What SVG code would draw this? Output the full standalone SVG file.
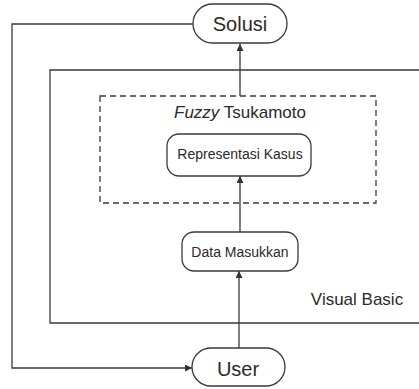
<svg xmlns="http://www.w3.org/2000/svg" width="419" height="389" viewBox="0 0 419 389">
<defs>
<marker id="arr" viewBox="0 0 10 10" refX="10" refY="5" markerWidth="7" markerHeight="7" markerUnits="userSpaceOnUse" orient="auto">
<path d="M0,0 L10,5 L0,10 Z" fill="#333"/>
</marker>
<style>
.ln{fill:none;stroke:#3a3a3a;stroke-width:1.3}
.nd{fill:#fff;stroke:#3a3a3a;stroke-width:1.3}
.tx{font-family:"Liberation Sans",Arial,sans-serif;fill:#2a2a2a;text-anchor:middle}
</style>
</defs>
<rect width="419" height="389" fill="#fff"/>
<g id="visual-basic">
<path class="ln" d="M419,70 L50,70 L50,323 L419,323"/>
<text class="tx" x="357" y="305" font-size="17">Visual Basic</text>
</g>
<g id="fuzzy-tsukamoto">
<rect class="ln" x="100" y="96" width="276" height="107" stroke-dasharray="6,4"/>
<text class="tx" x="240" y="118" font-size="17"><tspan font-style="italic">Fuzzy</tspan> Tsukamoto</text>
</g>
<g id="connectors">
<path class="ln" d="M240,96 L240,44" marker-end="url(#arr)"/>
<path class="ln" d="M240,232 L240,176" marker-end="url(#arr)"/>
<path class="ln" d="M239,348 L239,271" marker-end="url(#arr)"/>
<path class="ln" d="M193,24 L12,24 L12,368 L192,368" marker-end="url(#arr)"/>
</g>
<g id="solusi">
<rect class="nd" x="193" y="4" width="94" height="39" rx="19.5"/>
<text class="tx" x="240" y="31" font-size="20">Solusi</text>
</g>
<g id="representasi-kasus">
<rect class="nd" x="167" y="134" width="144" height="42" rx="12"/>
<text class="tx" x="240" y="159" font-size="14">Representasi Kasus</text>
</g>
<g id="data-masukkan">
<rect class="nd" x="182" y="232" width="116" height="39" rx="12"/>
<text class="tx" x="240" y="257" font-size="14">Data Masukkan</text>
</g>
<g id="user">
<rect class="nd" x="192" y="348" width="93" height="38" rx="19"/>
<text class="tx" x="238" y="376" font-size="20">User</text>
</g>
</svg>
